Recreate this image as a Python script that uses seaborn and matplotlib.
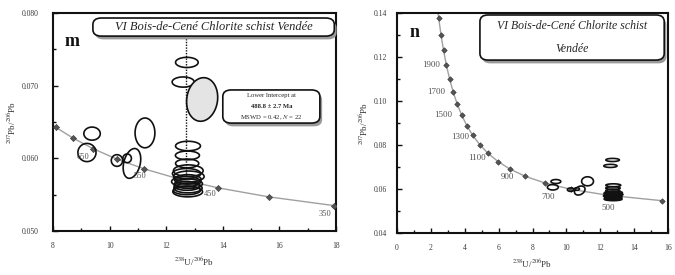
import numpy as np
import pandas as pd
import matplotlib
matplotlib.use("Agg")
import matplotlib.pyplot as plt
import seaborn as sns
from matplotlib.patches import Polygon, FancyBboxPatch

# Concordia reference points (age in Ma, 238U/206Pb, 207Pb/206Pb)
left_age = [800, 750, 700, 650, 600, 550, 500, 450, 400, 350, 300]
left_x = [7.568, 8.105, 8.718, 9.426, 10.252, 11.228, 12.399, 13.831, 15.621, 17.923, 20.99]
left_y = [0.06580, 0.06425, 0.06276, 0.06131, 0.05990, 0.05854, 0.05722, 0.05594, 0.05470, 0.05350, 0.05233]
left_labels = [650, 550, 450, 350]

right_age = [2300, 2200, 2100, 2000, 1900, 1800, 1700, 1600, 1500, 1400, 1300,
             1200, 1100, 1000, 900, 800, 700, 600, 500, 400]
right_x = [2.332, 2.459, 2.597, 2.749, 2.917, 3.104, 3.314, 3.550, 3.817, 4.122, 4.476,
           4.888, 5.375, 5.959, 6.674, 7.568, 8.718, 10.252, 12.399, 15.621]
right_y = [0.14602, 0.13783, 0.13015, 0.12297, 0.11628, 0.11003, 0.10418, 0.09872, 0.09360,
           0.08881, 0.08433, 0.08013, 0.07619, 0.07250, 0.06904, 0.06580, 0.06276, 0.05990,
           0.05722, 0.05470]
right_labels = [1900, 1700, 1500, 1300, 1100, 900, 700, 500]

# zircon analyses: centre, full width/height of error ellipse, correlation
ell_x = [9.38, 9.20, 11.25, 10.26, 10.79, 10.62, 12.73, 12.60, 13.27, 12.77, 12.75,
         12.74, 12.78, 12.72, 12.80, 12.76, 12.70, 12.79, 12.74, 12.77, 12.73, 12.76]
ell_y = [0.0634, 0.0608, 0.0635, 0.0597, 0.0593, 0.0600, 0.0732, 0.0705, 0.0681, 0.0617,
         0.0604, 0.0593, 0.0583, 0.0579, 0.0575, 0.0571, 0.0568, 0.0565, 0.0562, 0.0559,
         0.0556, 0.0554]
ell_w = [0.58, 0.64, 0.70, 0.40, 0.62, 0.30, 0.80, 0.78, 1.10, 0.88, 0.85, 0.82, 1.05,
         1.00, 1.08, 0.95, 1.02, 0.98, 0.92, 1.00, 0.96, 1.05]
ell_h = [0.0018, 0.0025, 0.0041, 0.0016, 0.0041, 0.0012, 0.0014, 0.0014, 0.0060, 0.0013,
         0.0012, 0.0012, 0.0016, 0.0014, 0.0015, 0.0013, 0.0014, 0.0013, 0.0012, 0.0013,
         0.0012, 0.0014]
ell_rho = [0.0, 0.0, 0.0, 0.0, 0.3, 0.0, 0.0, 0.0, 0.1, 0.0, 0.0, 0.0, 0.0, 0.0, 0.0,
           0.0, 0.0, 0.0, 0.0, 0.0, 0.0, 0.0]
gray_idx = 8

intercept_x = 12.69
intercept_y = [0.0772, 0.0575]

sns.set_theme(style="ticks")
plt.rcParams['font.family'] = ['Liberation Serif', 'DejaVu Serif']
plt.rcParams['mathtext.fontset'] = 'stix'

fig = plt.figure(figsize=(6.75, 2.75), dpi=100)
fig.patch.set_facecolor('white')
ax1 = fig.add_axes([53/675, 1-231/275, 283/675, 218/275])
ax2 = fig.add_axes([397/675, 1-233/275, 271/675, 220/275])


def draw_ellipses(ax, skip_gray=False, lw=1.0):
    t = np.linspace(0, 2*np.pi, 80)
    for i in range(len(ell_x)):
        if skip_gray and i == gray_idx:
            continue
        a, b, r = ell_w[i]/2, ell_h[i]/2, ell_rho[i]
        xs = ell_x[i] + a*np.cos(t)
        ys = ell_y[i] + b*(r*np.cos(t) + np.sqrt(1-r*r)*np.sin(t))
        fc = '#e4e4e4' if i == gray_idx else 'none'
        ax.add_patch(Polygon(np.column_stack([xs, ys]), closed=True, fc=fc,
                             ec='#111111', lw=lw, zorder=4))


def title_box(ax, x0, y0, w, h, lines, size):
    ax.add_patch(FancyBboxPatch((x0+0.008, y0-0.015), w, h, boxstyle="round,pad=0,rounding_size=0.03",
                                transform=ax.transAxes, fc='#9a9a9a', ec='none', zorder=6, clip_on=False))
    ax.add_patch(FancyBboxPatch((x0, y0), w, h, boxstyle="round,pad=0,rounding_size=0.03",
                                transform=ax.transAxes, fc='white', ec='#111111', lw=1.2, zorder=7,
                                clip_on=False))
    n = len(lines)
    for k, (txt, kw) in enumerate(lines):
        ax.text(x0 + w/2, y0 + h*(n - k - 0.5)/n, txt, transform=ax.transAxes, ha='center',
                va='center', fontsize=size, zorder=8, **kw)


def style_axes(ax, xlim, ylim, xmaj, xmin, ymaj, ymin, yfmt, xpad, ypad):
    ax.set_xlim(*xlim)
    ax.set_ylim(*ylim)
    ax.set_xticks(np.arange(xlim[0], xlim[1] + 1e-9, xmaj))
    ax.set_xticks(np.arange(xlim[0], xlim[1] + 1e-9, xmin), minor=True)
    ax.set_yticks(np.arange(ylim[0], ylim[1] + 1e-9, ymaj))
    ax.set_yticks(np.arange(ylim[0], ylim[1] + 1e-9, ymin), minor=True)
    ax.set_yticklabels([yfmt.format(v) for v in ax.get_yticks()])
    ax.set_xticklabels([f"{v:g}" for v in ax.get_xticks()])
    ax.tick_params(which='both', direction='in', width=1.0, colors='#111111',
                   labelcolor='#3a3a3a', labelsize=5.5)
    ax.tick_params(which='major', length=3.5)
    ax.tick_params(which='minor', length=2.5)
    ax.tick_params(axis='x', pad=xpad)
    ax.tick_params(axis='y', pad=ypad)
    for s in ax.spines.values():
        s.set_linewidth(1.5)
        s.set_color('#111111')
    ax.set_facecolor('white')
    ax.set_xlabel(r'$^{238}$U/$^{206}$Pb', fontsize=6.5, color='#333333', labelpad=4)
    ax.set_ylabel(r'$^{207}$Pb/$^{206}$Pb', fontsize=6.5, color='#333333', labelpad=3)


# ---- left panel (m)
dfl = pd.DataFrame({'x': left_x, 'y': left_y, 'age': left_age})
sns.lineplot(data=dfl, x='x', y='y', sort=False, color='#a0a0a0', lw=1.0, ax=ax1, zorder=2)
sns.scatterplot(data=dfl, x='x', y='y', marker='D', s=10, color='#555555', edgecolor='#333333',
                lw=0.4, ax=ax1, zorder=3)
draw_ellipses(ax1, lw=1.2)
ax1.plot([intercept_x, intercept_x], intercept_y, ls=(0, (1, 1)), color='#111111', lw=1.0, zorder=5)
left_off = {650: (-10, -8), 550: (-4, -7), 450: (-8, -6), 350: (-9, -8)}
for age in left_labels:
    i = left_age.index(age)
    ax1.annotate(str(age), (left_x[i], left_y[i]), xytext=left_off[age], textcoords='offset pixels',
                 ha='center', va='center', fontsize=6, color='#555555', zorder=6)
style_axes(ax1, (8, 18), (0.050, 0.080), 2, 1, 0.010, 0.005, "{:.3f}", 8, 10)
title_box(ax1, 0.141, 0.894, 0.853, 0.083,
          [("VI Bois-de-Cené Chlorite schist Vendée", dict(style='italic'))], 9)
title_box(ax1, 0.600, 0.495, 0.343, 0.152,
          [("Lower Intercept at", {}),
           ("488.8 ± 2.7 Ma", dict(fontweight='bold')),
           (r"MSWD = 0.42, $N$ = 22", {})], 4.8)
ax1.text(0.067, 0.867, "m", transform=ax1.transAxes, fontsize=13, fontweight='bold',
         ha='center', va='center', color='#111111')

# ---- right panel (n)
dfr = pd.DataFrame({'x': right_x, 'y': right_y, 'age': right_age})
sns.lineplot(data=dfr, x='x', y='y', sort=False, color='#a0a0a0', lw=1.0, ax=ax2, zorder=2)
sns.scatterplot(data=dfr, x='x', y='y', marker='D', s=8, color='#555555', edgecolor='#333333',
                lw=0.4, ax=ax2, zorder=3)
draw_ellipses(ax2, skip_gray=True, lw=1.2)
right_off = {1900: (-6, 0, 'right'), 1700: (-8, 0, 'right'), 1500: (-9, 0, 'right'),
             1300: (-4, -2, 'right'), 1100: (-2, -5, 'right'), 900: (-3, -8, 'center'),
             700: (3, -14, 'center'), 500: (1, -13, 'center')}
for age in right_labels:
    i = right_age.index(age)
    dx, dy, ha = right_off[age]
    ax2.annotate(str(age), (right_x[i], right_y[i]), xytext=(dx, dy), textcoords='offset pixels',
                 ha=ha, va='center', fontsize=6.5, color='#555555', zorder=6)
style_axes(ax2, (0, 16), (0.04, 0.14), 2, 1, 0.02, 0.01, "{:.2f}", 8, 7)
title_box(ax2, 0.306, 0.786, 0.68, 0.205,
          [("VI Bois-de-Cené Chlorite schist", dict(style='italic')),
           ("Vendée", dict(style='italic'))], 8.5)
ax2.text(0.066, 0.91, "n", transform=ax2.transAxes, fontsize=13, fontweight='bold',
         ha='center', va='center', color='#111111')

fig.savefig("out.png", dpi=100, facecolor='white')
